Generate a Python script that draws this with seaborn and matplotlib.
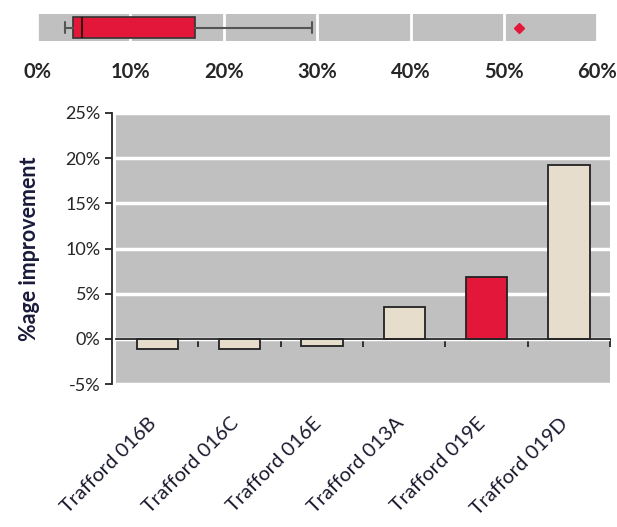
import matplotlib
matplotlib.use("Agg")
import matplotlib.pyplot as plt
import matplotlib.transforms as mtransforms
from matplotlib.ticker import PercentFormatter, MultipleLocator
import seaborn as sns

# bar chart data (% improvement)
areas = ["Trafford 016B", "Trafford 016C", "Trafford 016E",
         "Trafford 013A", "Trafford 019E", "Trafford 019D"]
improvement = [-1.1, -1.1, -0.8, 3.5, 6.9, 19.2]
highlight = "Trafford 019E"

# summary of the distribution shown in the top strip (%)
box_whislo = 3.0
box_q1 = 3.9
box_med = 4.8
box_q3 = 16.9
box_whishi = 29.5
box_fliers = [51.6]

RED = "#E3173A"
BEIGE = "#E6DDCD"
GREY = "#C0C0C0"

sns.set_style("white")
plt.rcParams["font.family"] = ["Lato", "DejaVu Sans"]
plt.rcParams["axes.unicode_minus"] = False

fig = plt.figure(figsize=(6.17, 5.27), dpi=100)

# ---- top strip: box plot ----
ax_box = fig.add_axes([0.060, 0.922, 0.908, 0.0512])
ax_box.set_facecolor(GREY)
stats = [dict(whislo=box_whislo, q1=box_q1, med=box_med, q3=box_q3,
              whishi=box_whishi, fliers=box_fliers)]
ax_box.bxp(stats, orientation="horizontal", widths=0.78, patch_artist=True,
           showcaps=True,
           boxprops=dict(facecolor=RED, edgecolor="#333333", linewidth=1.2),
           medianprops=dict(color="#3a0a10", linewidth=1.5),
           whiskerprops=dict(color="#555555", linewidth=1.5),
           capprops=dict(color="#555555", linewidth=1.5),
           flierprops=dict(marker="D", markerfacecolor=RED, markeredgecolor=RED,
                           markersize=5))
ax_box.set_xlim(0, 60)
ax_box.set_ylim(0.5, 1.5)
ax_box.xaxis.set_major_locator(MultipleLocator(10))
ax_box.xaxis.set_major_formatter(PercentFormatter(decimals=0))
ax_box.grid(axis="x", color="white", linewidth=2)
ax_box.set_axisbelow(True)
ax_box.set_yticks([])
ax_box.tick_params(axis="x", length=0, pad=15, labelsize=14.5)
for lab in ax_box.get_xticklabels():
    lab.set_fontweight("bold")
for s in ax_box.spines.values():
    s.set_visible(False)

# ---- main bar chart ----
ax = fig.add_axes([0.188, 0.2713, 0.801, 0.5143])
ax.set_facecolor(GREY)
colors = [RED if a == highlight else BEIGE for a in areas]
sns.barplot(x=areas, y=improvement, hue=areas, palette=colors, legend=False,
            saturation=1, width=0.5, edgecolor="#222222", linewidth=1.3,
            ax=ax, zorder=3)
ax.set_ylim(-5, 25)
ax.set_xlim(-0.5, len(areas) - 0.5)
ax.yaxis.set_major_locator(MultipleLocator(5))
ax.yaxis.set_major_formatter(PercentFormatter(decimals=0))
ax.grid(axis="y", color="white", linewidth=2.5)
ax.set_axisbelow(True)

ax.spines["top"].set_visible(False)
ax.spines["right"].set_visible(False)
ax.spines["left"].set_position(("outward", 3))
ax.spines["left"].set_linewidth(1.3)
ax.spines["bottom"].set_position(("data", 0))
ax.spines["bottom"].set_linewidth(1.3)
ax.spines["bottom"].set_zorder(4)
ax.tick_params(axis="y", direction="out", length=5, width=1.3, left=True,
               labelsize=13, pad=3)

# category boundary ticks on the zero line
ax.set_xticks([i + 0.5 for i in range(len(areas))])
ax.set_xticklabels([])
ax.tick_params(axis="x", direction="out", length=6, width=1.3, bottom=True)

# category labels below the plot area
sec = ax.secondary_xaxis("bottom")
sec.set_xticks(range(len(areas)))
sec.set_xticklabels(areas, rotation=45, ha="right", rotation_mode="anchor",
                    fontsize=14.5, color="#1a1a2e")
sec.tick_params(length=0, pad=22)
sec.spines["bottom"].set_visible(False)
offset = mtransforms.ScaledTranslation(-7 / 72, 0, fig.dpi_scale_trans)
for lab in sec.get_xticklabels():
    lab.set_transform(lab.get_transform() + offset)

ax.set_ylabel("%age improvement", fontsize=15.5, fontweight="bold",
              color="#1a1a3a", labelpad=18)

fig.savefig("out.png", dpi=100)
